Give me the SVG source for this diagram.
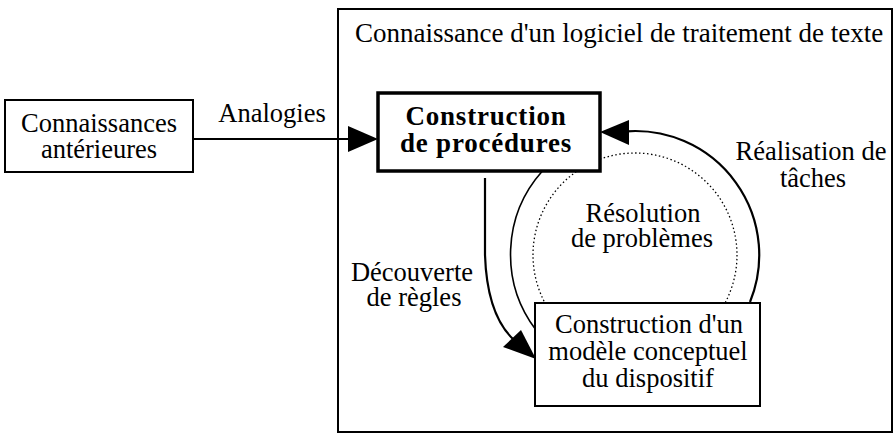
<svg xmlns="http://www.w3.org/2000/svg" width="896" height="436" viewBox="0 0 896 436">
<style>
  text { font-family: "Liberation Serif", "Times New Roman", serif; font-size: 26.5px; fill: #000; }
  .c { text-anchor: middle; }
  .t { font-size: 27px; }
  .b { font-weight: bold; font-size: 27px; letter-spacing: 0.8px; }
  .box { fill: #fff; stroke: #000; stroke-width: 2; }
  .line { fill: none; stroke: #000; stroke-width: 2.2; }
</style>
<rect width="896" height="436" fill="#fff"/>
<g id="frame">
  <rect x="338" y="9" width="554" height="423" fill="none" stroke="#000" stroke-width="2"/>
  <text class="t" x="355" y="42">Connaissance d'un logiciel de traitement de texte</text>
</g>
<g id="connectors">
  <circle cx="635" cy="255" r="102" fill="none" stroke="#000" stroke-width="1.3" stroke-dasharray="1.5 2.5"/>
  <path class="line" d="M193,139 L352,139"/>
  <polygon points="378,139 348,126 348,152"/>
  <path class="line" d="M627,131.3 A124,124 0 0 1 750,302"/>
  <polygon points="600,132 629,120 629,145"/>
  <path fill="none" stroke="#000" stroke-width="1.6" d="M542.4,171 A125,125 0 0 0 536,330"/>
  <path class="line" d="M485,178 L485,255 Q487,315 514,340"/>
  <polygon points="536,359 503,347 521,330"/>
  <text class="c" x="272" y="122">Analogies</text>
  <text class="c" x="811" y="160">Réalisation de</text>
  <text class="c" x="813" y="187">tâches</text>
  <text class="c" x="412" y="281">Découverte</text>
  <text class="c" x="414" y="306">de règles</text>
  <text class="c" x="643" y="222">Résolution</text>
  <text class="c" x="642" y="247">de problèmes</text>
</g>
<g id="anterieures">
  <rect class="box" x="5" y="100" width="188" height="72"/>
  <text class="c" x="99" y="132">Connaissances</text>
  <text class="c" x="99" y="158">antérieures</text>
</g>
<g id="procedures">
  <rect x="378" y="93" width="222" height="78" fill="#fff" stroke="#000" stroke-width="3.5"/>
  <text class="c b" x="486" y="125">Construction</text>
  <text class="c b" x="486" y="152">de procédures</text>
</g>
<g id="modele">
  <rect class="box" x="535" y="303" width="225" height="103"/>
  <text class="c" x="649" y="333">Construction d'un</text>
  <text class="c" x="648" y="360">modèle conceptuel</text>
  <text class="c" x="648" y="387">du dispositif</text>
</g>
</svg>
